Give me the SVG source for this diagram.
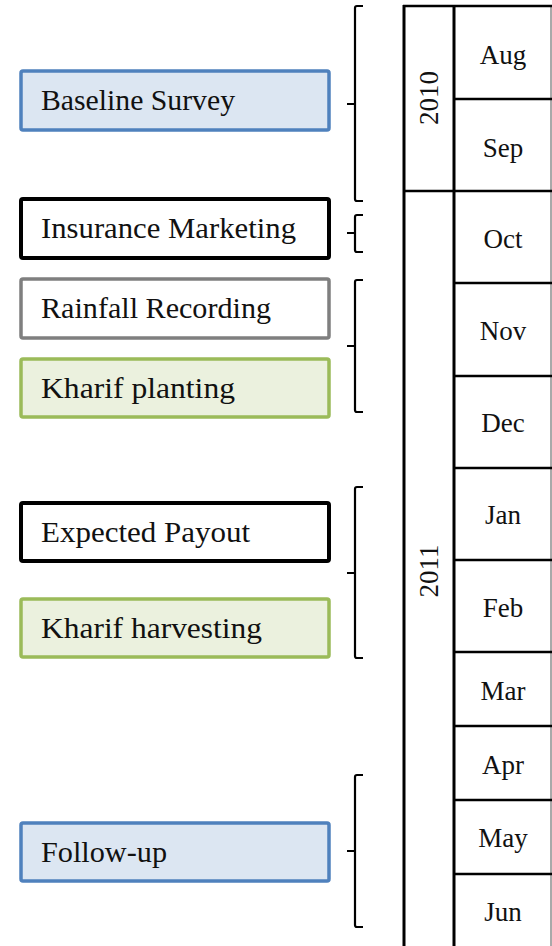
<svg xmlns="http://www.w3.org/2000/svg" width="552" height="946" viewBox="0 0 552 946">
<style>
.lbl{font-family:"Liberation Serif","Times New Roman",serif;font-size:30px;fill:#111}
.mon{font-family:"Liberation Serif","Times New Roman",serif;font-size:27px;fill:#111;text-anchor:middle}
.yr{font-family:"Liberation Serif","Times New Roman",serif;font-size:27px;fill:#111;text-anchor:middle}
.blue{fill:#DCE6F2;stroke:#4F81BD;stroke-width:3.5}
.black{fill:#FFFFFF;stroke:#000000;stroke-width:4}
.gray{fill:#FFFFFF;stroke:#7F7F7F;stroke-width:3.5}
.green{fill:#EBF1DE;stroke:#9BBB59;stroke-width:3.5}
.br{fill:none;stroke:#000;stroke-width:2.2}
.tl{stroke:#000;stroke-width:3;fill:none}
.th{stroke:#000;stroke-width:2.5}
</style>
<rect width="552" height="946" fill="#fff"/>
<g id="node-baseline"><rect class="blue" x="21" y="71" width="308" height="59" rx="2"/><text class="lbl" x="41" y="110" textLength="194" lengthAdjust="spacingAndGlyphs">Baseline Survey</text></g>
<g id="node-marketing"><rect class="black" x="21" y="199" width="308" height="59" rx="2"/><text class="lbl" x="41" y="238" textLength="255" lengthAdjust="spacingAndGlyphs">Insurance Marketing</text></g>
<g id="node-rainfall"><rect class="gray" x="21" y="279" width="308" height="59" rx="2"/><text class="lbl" x="41" y="318" textLength="230" lengthAdjust="spacingAndGlyphs">Rainfall Recording</text></g>
<g id="node-planting"><rect class="green" x="21" y="359" width="308" height="58" rx="2"/><text class="lbl" x="41" y="398" textLength="194" lengthAdjust="spacingAndGlyphs">Kharif  planting</text></g>
<g id="node-payout"><rect class="black" x="21" y="503" width="308" height="58" rx="2"/><text class="lbl" x="41" y="542" textLength="209" lengthAdjust="spacingAndGlyphs">Expected Payout</text></g>
<g id="node-harvesting"><rect class="green" x="21" y="599" width="308" height="58" rx="2"/><text class="lbl" x="41" y="638" textLength="221" lengthAdjust="spacingAndGlyphs">Kharif  harvesting</text></g>
<g id="node-followup"><rect class="blue" x="21" y="823" width="308" height="58" rx="2"/><text class="lbl" x="41" y="862" textLength="126" lengthAdjust="spacingAndGlyphs">Follow-up</text></g>
<g id="connectors">
<path class="br" d="M363,6 H357 Q355,6 355,8 V199 Q355,201 357,201 H363 M347,104 H355"/>
<path class="br" d="M363,215 H357 Q355,215 355,217 V250 Q355,252 357,252 H363 M347,233 H355"/>
<path class="br" d="M363,280 H357 Q355,280 355,282 V410 Q355,412 357,412 H363 M347,346 H355"/>
<path class="br" d="M363,487 H357 Q355,487 355,489 V656 Q355,658 357,658 H363 M347,573 H355"/>
<path class="br" d="M363,775 H357 Q355,775 355,777 V925 Q355,927 357,927 H363 M347,851 H355"/>
</g>
<g id="timeline">
<line x1="551" y1="6" x2="551" y2="946" stroke="#8c8c8c" stroke-width="1.5"/>
<line class="tl" x1="404" y1="5" x2="404" y2="946"/>
<line class="tl" x1="454" y1="5" x2="454" y2="946"/>
<line class="th" x1="403" y1="6" x2="552" y2="6"/>
<line class="th" x1="454" y1="99" x2="552" y2="99"/>
<line class="th" x1="403" y1="191" x2="552" y2="191"/>
<line class="th" x1="454" y1="283" x2="552" y2="283"/>
<line class="th" x1="454" y1="376" x2="552" y2="376"/>
<line class="th" x1="454" y1="468" x2="552" y2="468"/>
<line class="th" x1="454" y1="560" x2="552" y2="560"/>
<line class="th" x1="454" y1="652" x2="552" y2="652"/>
<line class="th" x1="454" y1="726" x2="552" y2="726"/>
<line class="th" x1="454" y1="800" x2="552" y2="800"/>
<line class="th" x1="454" y1="874" x2="552" y2="874"/>
<text class="yr" transform="translate(438,98) rotate(-90)">2010</text>
<text class="yr" transform="translate(438,571) rotate(-90)">2011</text>
<text class="mon" x="503" y="64">Aug</text>
<text class="mon" x="503" y="157">Sep</text>
<text class="mon" x="503" y="248">Oct</text>
<text class="mon" x="503" y="340">Nov</text>
<text class="mon" x="503" y="432">Dec</text>
<text class="mon" x="503" y="524">Jan</text>
<text class="mon" x="503" y="617">Feb</text>
<text class="mon" x="503" y="700">Mar</text>
<text class="mon" x="503" y="774">Apr</text>
<text class="mon" x="503" y="847">May</text>
<text class="mon" x="503" y="921">Jun</text>
</g>
</svg>
